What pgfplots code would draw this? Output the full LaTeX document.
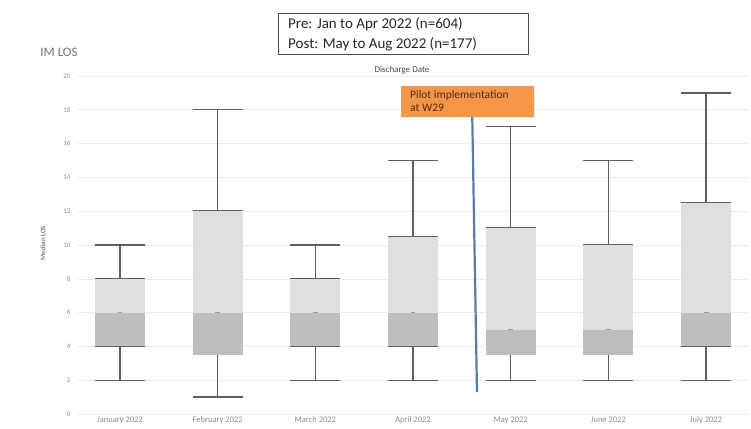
\documentclass[border=0pt]{standalone}
\usepackage{pgfplots}
\pgfplotsset{compat=1.18}
\usepgfplotslibrary{statistics}
\usepackage{fontspec}
\setmainfont{Carlito}
\definecolor{whisk}{RGB}{95,95,95}
\definecolor{boxlight}{RGB}{223,223,223}
\definecolor{boxdark}{RGB}{190,190,190}
\definecolor{gridc}{RGB}{234,234,234}
\definecolor{tickc}{RGB}{140,140,140}
\definecolor{pilot}{RGB}{247,150,70}
\definecolor{pilottext}{RGB}{70,45,25}
\definecolor{pline}{RGB}{88,122,176}

\pgfplotsset{
  losstyle/.style={
    boxplot/draw direction=y,
    boxplot/box extend=0.51, boxplot/whisker extend=0.51,
    boxplot/every whisker/.style={draw=whisk, line width=1.4pt},
  },
}
% #1 position, #2 low whisker, #3 Q1, #4 median, #5 Q3, #6 high whisker
\newcommand{\losbox}[6]{%
  \addplot[boxplot prepared={draw position=#1, lower whisker=#2, lower quartile=#3,
      median=#4, upper quartile=#4, upper whisker=#4},
    losstyle,
    boxplot/every box/.style={fill=boxdark, draw=none},
    boxplot/draw/median/.code={},
    boxplot/draw/upper whisker/.code={},
  ] coordinates {};
  \addplot[boxplot prepared={draw position=#1, lower whisker=#4, lower quartile=#4,
      median=#4, upper quartile=#5, upper whisker=#6},
    losstyle,
    boxplot/every box/.style={fill=boxlight, draw=none},
    boxplot/draw/lower whisker/.code={},
    boxplot/draw/median/.code={\draw[black!40, line width=0.6pt] (boxplot box cs:\pgfplotsboxplotvalue{median},0.45) -- (boxplot box cs:\pgfplotsboxplotvalue{median},0.55);},
    boxplot/draw/upper whisker/.code={%
      \draw[/pgfplots/boxplot/every whisker/.try] (boxplot cs:\pgfplotsboxplotvalue{upper quartile}) -- (boxplot cs:\pgfplotsboxplotvalue{upper whisker});
      \draw[/pgfplots/boxplot/every whisker/.try] (boxplot whisker cs:\pgfplotsboxplotvalue{upper whisker},0) -- (boxplot whisker cs:\pgfplotsboxplotvalue{upper whisker},1);
      \draw[/pgfplots/boxplot/every whisker/.try] (boxplot whisker cs:\pgfplotsboxplotvalue{upper quartile},0) -- (boxplot whisker cs:\pgfplotsboxplotvalue{upper quartile},1);},
  ] coordinates {};
}

\begin{document}
\begin{tikzpicture}[x=1pt,y=1pt]
\path[use as bounding box] (0,0) rectangle (751,428);
\begin{axis}[
  at={(78pt,14pt)}, anchor=south west,
  scale only axis, width=670pt, height=338pt,
  xmin=-0.43, xmax=6.43, ymin=0, ymax=20,
  xtick={0,...,6},
  xticklabels={January 2022, February 2022, March 2022, April 2022, May 2022, June 2022, July 2022},
  ytick={0,2,...,20},
  yticklabels={0,2,4,6,8,10,12,14,16,18,20},
  ymajorgrids, grid style={draw=gridc, line width=0.6pt},
  axis line style={draw=none},
  tick style={draw=none},
  tick label style={text=tickc},
  xticklabel style={font=\fontsize{8.5}{9}\selectfont, yshift=1pt},
  yticklabel style={font=\fontsize{7}{8}\selectfont, xshift=-4pt},
  /pgf/number format/assume math mode=true,
  clip=false,
]
\losbox{0}{2}{4}{6}{8}{10}
\losbox{1}{1}{3.5}{6}{12}{18}
\losbox{2}{2}{4}{6}{8}{10}
\losbox{3}{2}{4}{6}{10.5}{15}
\losbox{4}{2}{3.5}{5}{11}{17}
\losbox{5}{2}{3.5}{5}{10}{15}
\losbox{6}{2}{4}{6}{12.5}{19}
\addplot[draw=whisk, line width=1.4pt, unbounded coords=jump] coordinates {
  (-0.255,4) (0.255,4) (0,inf) (1.745,4) (2.255,4) (0,inf)
  (2.745,4) (3.255,4) (0,inf) (5.745,4) (6.255,4)};
\addplot[draw=pline, line width=2.2pt] coordinates {(3.604,18.5) (3.655,1.3)};
\end{axis}
% annotations
\fill[pilot] (401,342) rectangle (534,311);
\node[anchor=north west, align=left, inner sep=0pt, font=\fontsize{11.5}{13}\selectfont, text=pilottext] at (410,338) {Pilot implementation\\at W29};
\draw[black!70, line width=0.8pt] (278,415) rectangle (528,374);
\node[anchor=north west, align=left, inner sep=0pt, font=\fontsize{15}{20}\selectfont, text=black!85] at (288,411) {Pre: Jan to Apr 2022 (n=604)\\Post: May to Aug 2022 (n=177)};
\node[font=\fontsize{13}{15}\selectfont, text=black!55] at (59,376) {IM LOS};
\node[font=\fontsize{9}{10}\selectfont, text=black!70] at (402,358) {Discharge Date};
\node[rotate=90, font=\fontsize{7}{8}\selectfont, text=black!70] at (43,185) {Median LOS};
\end{tikzpicture}
\end{document}
